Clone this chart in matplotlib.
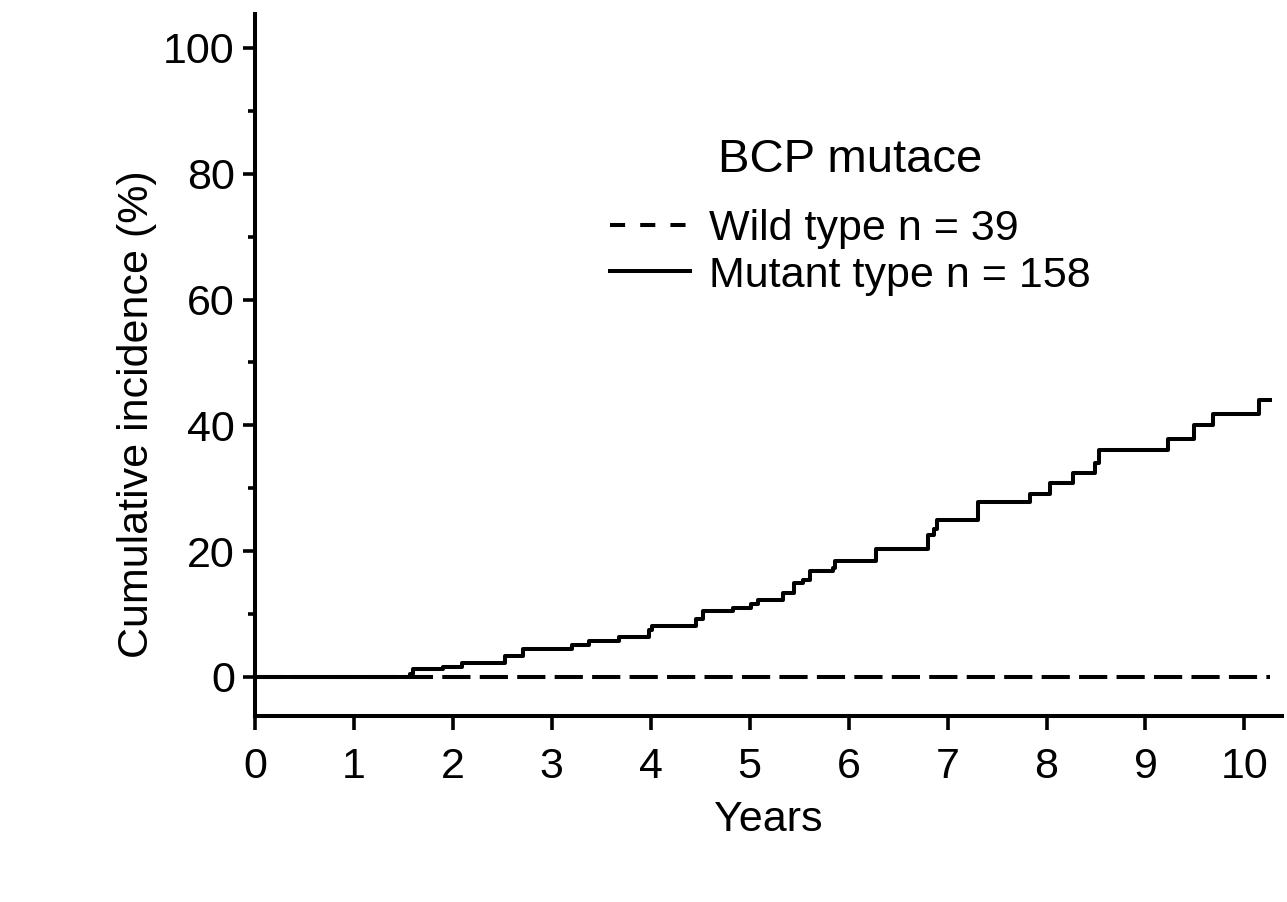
import matplotlib
matplotlib.use("Agg")
import matplotlib.pyplot as plt
from matplotlib.lines import Line2D
from matplotlib.ticker import MultipleLocator

plt.rcParams["font.family"] = ["Liberation Sans", "DejaVu Sans"]

# step data (years, cumulative incidence %)
mutant_years = [0, 1.57, 1.60, 1.90, 2.09, 2.53, 2.71, 3.20, 3.38, 3.68, 3.98,
                4.01, 4.46, 4.53, 4.83, 5.01, 5.08, 5.34, 5.45, 5.54, 5.61,
                5.84, 5.86, 6.28, 6.80, 6.86, 6.89, 7.31, 7.83, 8.04, 8.27,
                8.49, 8.53, 9.23, 9.49, 9.68, 10.15, 10.26]
mutant_inc = [0, 0.4, 1.2, 1.6, 2.2, 3.3, 4.5, 5.1, 5.7, 6.3, 7.4,
              8.1, 9.2, 10.5, 11.0, 11.6, 12.2, 13.3, 14.9, 15.5, 16.9,
              17.3, 18.5, 20.3, 22.6, 23.6, 24.9, 27.9, 29.1, 30.8, 32.5,
              34.0, 36.1, 37.8, 40.1, 41.8, 44.0, 44.0]
wild_years = [0, 10.26]
wild_inc = [0, 0]

x_ticks = list(range(0, 11))
y_ticks = [0, 20, 40, 60, 80, 100]

legend_title = "BCP mutace"
wild_label = "Wild type n = 39"
mutant_label = "Mutant type n = 158"

fs = 31

fig = plt.figure(figsize=(12.87, 9.02), dpi=100)
ax = fig.add_axes([255 / 1287, 1 - 716 / 902, 1027 / 1287, 702 / 902])

lw = 2.9
ax.plot(wild_years, wild_inc, color="black", lw=lw, dashes=(7, 2.3))
ax.step(mutant_years, mutant_inc, where="post", color="black", lw=lw)

ax.set_xlim(0, 10.38)
ax.set_ylim(-6.2, 105.4)
ax.set_xticks(x_ticks)
ax.set_yticks(y_ticks)
ax.yaxis.set_minor_locator(MultipleLocator(10))

for side in ["top", "right"]:
    ax.spines[side].set_visible(False)
for side in ["left", "bottom"]:
    ax.spines[side].set_linewidth(2.9)

ax.tick_params(axis="both", which="major", labelsize=fs, width=2.6,
               color="black", labelcolor="black")
ax.tick_params(axis="y", which="major", length=8.5, pad=6)
ax.tick_params(axis="y", which="minor", length=5, width=2.6)
ax.tick_params(axis="x", which="major", length=10, pad=12)

ax.set_xlabel("Years", fontsize=fs, labelpad=10)
ax.set_ylabel("Cumulative incidence (%)", fontsize=fs)
# the label sits a bit below the middle of the axis in the original
ax.yaxis.set_label_coords(-0.095, 0.43)

handles = [
    Line2D([], [], color="black", lw=lw, dashes=(3.75, 3.75)),
    Line2D([], [], color="black", lw=lw),
]
leg = ax.legend(handles, [wild_label, mutant_label], title=legend_title,
                loc="upper left", bbox_to_anchor=(0.3457, 0.823),
                frameon=False, fontsize=fs, title_fontsize=34,
                handlelength=1.85, handletextpad=0.45, labelspacing=0.16,
                borderpad=0, borderaxespad=0)
leg._legend_box.sep = 19

fig.savefig("out.png", dpi=100)
